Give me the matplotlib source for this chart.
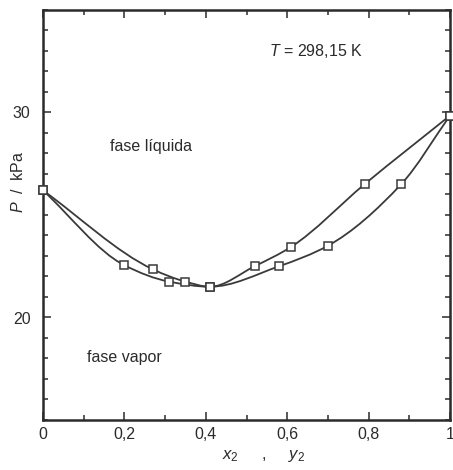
import matplotlib
matplotlib.use("Agg")
import matplotlib.pyplot as plt
from matplotlib.path import Path
from matplotlib.patches import PathPatch
from matplotlib.ticker import MultipleLocator, FixedLocator, FixedFormatter

# Liquid-phase (bubble) curve: P against x2
x2 = [0.0, 0.27, 0.35, 0.41, 0.52, 0.61, 0.79, 1.0]
p_liq = [26.2, 22.35, 21.75, 21.5, 22.5, 23.45, 26.5, 29.85]

# Vapour-phase (dew) curve: P against y2
y2 = [0.0, 0.20, 0.31, 0.41, 0.58, 0.70, 0.88, 1.0]
p_vap = [26.2, 22.55, 21.75, 21.5, 22.5, 23.5, 26.5, 29.85]

x_ticks = [0, 0.2, 0.4, 0.6, 0.8, 1.0]
x_tick_labels = ["0", "0,2", "0,4", "0,6", "0,8", "1"]
y_ticks = [20, 30]
y_tick_labels = ["20", "30"]

INK = "#2b2b2b"
FS = 11.5
plt.rcParams["font.family"] = ["Liberation Sans", "DejaVu Sans"]
plt.rcParams["mathtext.fontset"] = "custom"
plt.rcParams["mathtext.rm"] = "Liberation Sans"
plt.rcParams["mathtext.it"] = "Liberation Sans:italic"


def hermite_slopes(xs, ys):
    """Shape-preserving slopes; end slopes follow the end chords."""
    n = len(xs)
    h = [xs[i + 1] - xs[i] for i in range(n - 1)]
    d = [(ys[i + 1] - ys[i]) / h[i] for i in range(n - 1)]
    m = [0.0] * n
    for i in range(1, n - 1):
        if d[i - 1] * d[i] <= 0:
            m[i] = 0.0
        else:
            w1 = 2 * h[i] + h[i - 1]
            w2 = h[i] + 2 * h[i - 1]
            m[i] = (w1 + w2) / (w1 / d[i - 1] + w2 / d[i])
    m[0] = d[0]
    m[-1] = d[-1]
    return m


def smooth_path(xs, ys):
    m = hermite_slopes(xs, ys)
    verts = [(xs[0], ys[0])]
    codes = [Path.MOVETO]
    for i in range(len(xs) - 1):
        h = xs[i + 1] - xs[i]
        verts += [(xs[i] + h / 3, ys[i] + m[i] * h / 3),
                  (xs[i + 1] - h / 3, ys[i + 1] - m[i + 1] * h / 3),
                  (xs[i + 1], ys[i + 1])]
        codes += [Path.CURVE4] * 3
    return Path(verts, codes)


fig = plt.figure(figsize=(4.53, 4.70), dpi=100)
ax = fig.add_axes([43 / 453, 1 - 420 / 470, (450 - 43) / 453, (420 - 10) / 470])

for xs, ps in ((x2, p_liq), (y2, p_vap)):
    ax.add_patch(PathPatch(smooth_path(xs, ps), fill=False, edgecolor="#3a3a3a",
                           lw=1.3, transform=ax.transData, zorder=2))
    ax.plot(xs, ps, ls="none", marker="s", ms=6.3, mfc="white", mec="#3a3a3a",
            mew=1.1, zorder=3, clip_on=False)

ax.set_xlim(0, 1)
ax.set_ylim(15, 35)

ax.xaxis.set_major_locator(FixedLocator(x_ticks))
ax.xaxis.set_major_formatter(FixedFormatter(x_tick_labels))
ax.xaxis.set_minor_locator(MultipleLocator(0.1))
ax.yaxis.set_major_locator(FixedLocator(y_ticks))
ax.yaxis.set_major_formatter(FixedFormatter(y_tick_labels))
ax.yaxis.set_minor_locator(MultipleLocator(1))

ax.tick_params(which="both", direction="in", top=True, right=True,
               color=INK, width=1.1, labelcolor=INK, labelsize=FS)
ax.tick_params(which="major", length=6)
ax.tick_params(which="minor", length=3.5)
ax.tick_params(axis="x", pad=5)
ax.tick_params(axis="y", pad=9)

for s in ax.spines.values():
    s.set_linewidth(1.8)
    s.set_color(INK)

ax.text(0.265, 28.35, "fase líquida", ha="center", va="center",
        fontsize=FS, color=INK)
ax.text(0.20, 18.05, "fase vapor", ha="center", va="center",
        fontsize=FS, color=INK)
ax.text(0.67, 33.0, r"$T$ = 298,15 K", ha="center", va="center",
        fontsize=FS, color=INK)

fig.text(18 / 453, 1 - 182 / 470, r"$P$  /  kPa", rotation=90,
         ha="center", va="center", fontsize=FS, color=INK)
fig.text(263 / 453, 1 - 456 / 470, r"$x_2$     ,     $y_2$",
         ha="center", va="center", fontsize=12, color=INK)

fig.savefig("out.png", dpi=100, facecolor="white")
